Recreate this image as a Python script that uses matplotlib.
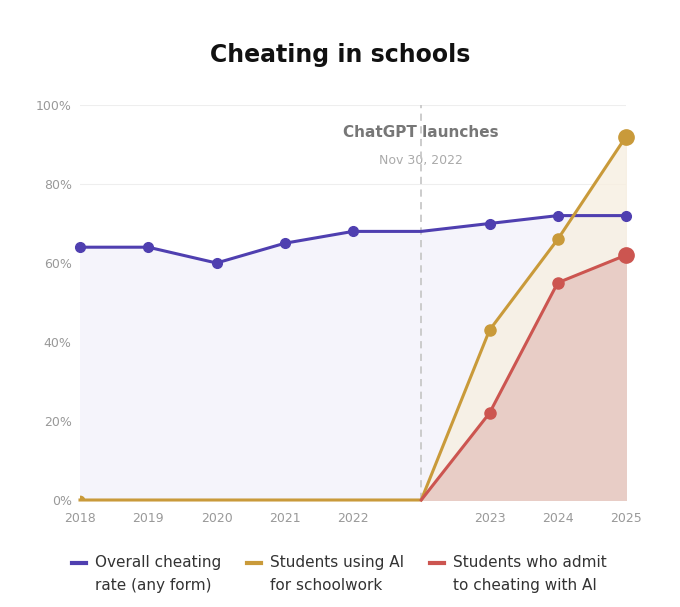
import matplotlib.pyplot as plt

# x positions: 2018..2022 = 0..4, ChatGPT launch = 5, 2023..2025 = 6..8
years = ['2018', '2019', '2020', '2021', '2022', '2023', '2024', '2025']
year_pos = [0, 1, 2, 3, 4, 6, 7, 8]
launch_pos = 5

overall_x = [0, 1, 2, 3, 4, 5, 6, 7, 8]
overall = [64, 64, 60, 65, 68, 68, 70, 72, 72]
overall_marks = [0, 1, 2, 3, 4, 6, 7, 8]

ai_use_x = [0, 5, 6, 7, 8]
ai_use = [0, 0, 43, 66, 92]

ai_cheat_x = [5, 6, 7, 8]
ai_cheat = [0, 22, 55, 62]

purple = '#4f3fb0'
gold = '#c99a3a'
red = '#cc5550'

fig = plt.figure(figsize=(6.8, 6.07), dpi=100)
ax = fig.add_axes([80/680, 1-500/607, 546/680, 395/607])

ax.fill_between(overall_x, overall, color='#f5f4fb', zorder=1)
ax.fill_between(ai_use_x, ai_use, color='#f7efe1', alpha=0.8, zorder=2)
ax.fill_between(ai_cheat_x, ai_cheat, color='#e8cdc6', zorder=3)

ax.plot(overall_x, overall, color=purple, lw=2.2, zorder=5)
ax.plot(overall_marks, [overall[overall_x.index(i)] for i in overall_marks], 'o',
        color=purple, ms=7, zorder=6, clip_on=False)
ax.plot(ai_use_x, ai_use, color=gold, lw=2.2, zorder=5, clip_on=False)
ax.plot([0], [0], 'o', color=gold, ms=6, zorder=4)
ax.plot([6, 7], [43, 66], 'o', color=gold, ms=8, zorder=6, clip_on=False)
ax.plot([8], [92], 'o', color=gold, ms=11, zorder=6, clip_on=False)
ax.plot(ai_cheat_x, ai_cheat, color=red, lw=2.2, zorder=5, clip_on=False)
ax.plot([6, 7], [22, 55], 'o', color=red, ms=8, zorder=6, clip_on=False)
ax.plot([8], [62], 'o', color=red, ms=11, zorder=6, clip_on=False)

ax.axvline(launch_pos, color='#c8c8c8', ls=(0, (4, 3)), lw=1.3, zorder=4)
ax.text(launch_pos, 93, 'ChatGPT launches', ha='center', va='center',
        fontsize=11, fontweight='bold', color='#777777')
ax.text(launch_pos, 86, 'Nov 30, 2022', ha='center', va='center',
        fontsize=9, color='#aaaaaa')

ax.set_xlim(0, 8)
ax.set_ylim(0, 100)
ax.set_yticks([0, 20, 40, 60, 80, 100])
ax.set_yticklabels([f'{v}%' for v in [0, 20, 40, 60, 80, 100]])
ax.set_xticks(year_pos)
ax.set_xticklabels(years)
ax.tick_params(length=0, labelsize=9, labelcolor='#999999', pad=9)
ax.tick_params(axis='y', pad=6)
ax.grid(axis='y', color='#eeeeee', lw=0.8)
ax.set_axisbelow(True)
for s in ax.spines.values():
    s.set_visible(False)

fig.text(0.5, 0.91, 'Cheating in schools', ha='center', va='center',
         fontsize=17, fontweight='bold', color='#111111')

legend = [(purple, 'Overall cheating\nrate (any form)', 72),
          (gold, 'Students using AI\nfor schoolwork', 247),
          (red, 'Students who admit\nto cheating with AI', 430)]
for col, lab, px in legend:
    fig.lines.append(plt.Line2D([px/680, (px+14)/680], [1-563/607]*2,
                                color=col, lw=3, transform=fig.transFigure))
    fig.text((px+23)/680, 1-574/607, lab, ha='left', va='center',
             fontsize=11, color='#333333', linespacing=1.6)

fig.savefig('out.png', dpi=100, facecolor='white')
